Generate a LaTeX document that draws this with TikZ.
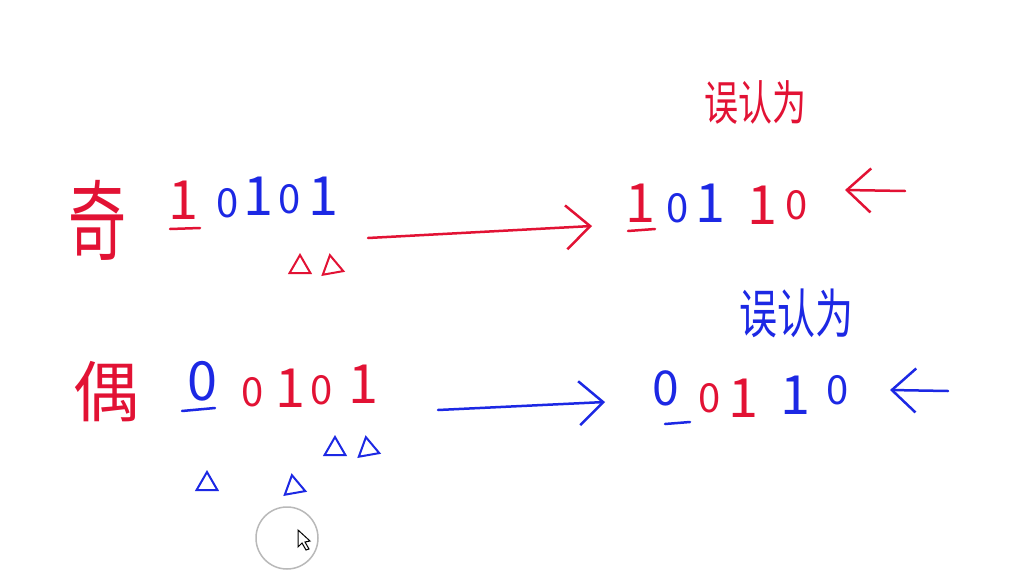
\documentclass[tikz,border=0pt]{standalone}
\usepackage{fontspec}
\setmainfont{Noto Sans CJK SC}
\usetikzlibrary{arrows.meta, shapes.geometric, positioning}
\definecolor{penred}{RGB}{226,18,52}
\definecolor{penblue}{RGB}{28,40,228}

\begin{document}
\begin{tikzpicture}[
    x=1pt, y=-1pt,
    bit/.style={inner sep=0pt, font=\fontsize{54}{54}\selectfont},
    zbit/.style={inner sep=0pt, font=\fontsize{40}{40}\selectfont},
    title/.style={inner sep=0pt, font=\fontsize{34}{34}\selectfont},
    side/.style={inner sep=0pt, font=\fontsize{58}{58}\selectfont, text=penred},
    tri/.style={regular polygon, regular polygon sides=3, line width=2pt, inner sep=0pt, minimum size=24pt},
    ul/.style={line width=2.5pt, line cap=round},
    pen/.style={line width=2.5pt, line cap=round, -{Straight Barb[length=24pt, width=44pt, line width=2.5pt]}},
]
\useasboundingbox[fill=white] (0,0) rectangle (1010,581);

% Odd row
\node[side] (odd) at (97,220) {\scalebox{1}[1.5]{奇}};
\node[bit, text=penred] (o1) at (183,200) {1};
\node[zbit, text=penblue] (o2) at (228,203) {0};
\node[bit, text=penblue] (o3) at (258,196) {1};
\node[zbit, text=penblue] (o4) at (290,199) {0};
\node[bit, text=penblue] (o5) at (323,196) {1};
\draw[ul, penred] (170,229) -- (200,228);
\node[tri, draw=penred] (ot1) at (300,267) {};
\node[tri, draw=penred, rotate=10] (ot2) at (332,267) {};

% Odd result
\node[title, text=penred] (wrong1) at (755,103) {\scalebox{1}[1.4]{误认为}};
\node[bit, text=penred] (or1) at (640,203) {1};
\node[zbit, text=penblue] (or2) at (678,208) {0};
\node[bit, text=penblue] (or3) at (710,203) {1};
\node[bit, text=penred] (or4) at (762,205) {1};
\node[zbit, text=penred] (or5) at (797,205) {0};
\draw[ul, penred] (628,231) -- (655,229);

% Even row
\node[side, font=\fontsize{66}{66}\selectfont] (even) at (106,392) {偶};
\node[bit, text=penblue] (e1) at (202,381) {0};
\node[zbit, text=penred] (e2) at (253,392) {0};
\node[bit, text=penred] (e3) at (290,388) {1};
\node[zbit, text=penred] (e4) at (322,390) {0};
\node[bit, text=penred] (e5) at (363,384) {1};
\draw[ul, penblue] (182,411) -- (215,408);
\node[tri, draw=penblue] (et1) at (207,484) {};
\node[tri, draw=penblue, rotate=10] (et2) at (294,487) {};
\node[tri, draw=penblue] (et3) at (335,449) {};
\node[tri, draw=penblue, rotate=10] (et4) at (368,449) {};

% Even result
\node[title, text=penblue, font=\fontsize{38}{38}\selectfont] (wrong2) at (796,313) {\scalebox{1}[1.4]{误认为}};
\node[bit, text=penblue, font=\fontsize{48}{48}\selectfont] (er1) at (666,388) {0};
\node[zbit, text=penred] (er2) at (710,398) {0};
\node[bit, text=penred] (er3) at (743,398) {1};
\node[bit, text=penblue] (er4) at (795,395) {1};
\node[zbit, text=penblue] (er5) at (838,390) {0};
\draw[ul, penblue] (665,424) -- (690,422);

% Arrows
\coordinate (a1s) at (368,238);
\coordinate (a1e) at (592,226);
\coordinate (a2s) at (438,410);
\coordinate (a2e) at (605,402);
\draw[pen, penred] (a1s) -- (a1e);
\draw[pen, penblue] (a2s) -- (a2e);

% Pointers
\coordinate (p1s) at (905,191);
\coordinate (p1e) at (845,190);
\coordinate (p2s) at (948,391);
\coordinate (p2e) at (890,390);
\draw[pen, penred] (p1s) -- (p1e);
\draw[pen, penblue] (p2s) -- (p2e);

% Cursor
\node[circle, draw=gray!55, line width=1.5pt, minimum size=62pt, inner sep=0pt] (cursor) at (287,538) {};
\draw[line width=1pt, fill=white] (298,530) -- (298,547) -- (302,543) -- (306,550) -- (309,549) -- (305,542) -- (310,541) -- cycle;
\end{tikzpicture}
\end{document}
